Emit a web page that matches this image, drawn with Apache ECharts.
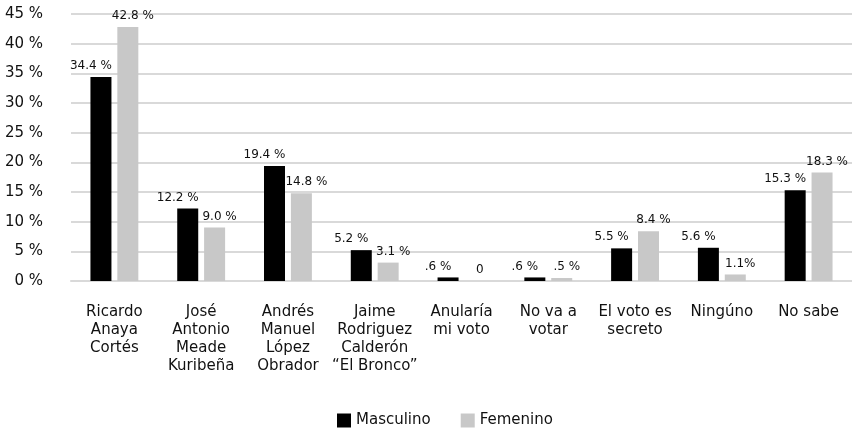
<!DOCTYPE html>
<html>
<head>
<meta charset="utf-8">
<script src="https://cdn.jsdelivr.net/npm/echarts@6/dist/echarts.min.js"></script>
<style>
  html, body { margin: 0; padding: 0; background: #fff; }
  #chart { width: 852px; height: 434px; }
</style>
</head>
<body>
<div id="chart"></div>
<script>
// Intención de voto por sexo
const categories = [
  'Ricardo\nAnaya\nCortés',
  'José\nAntonio\nMeade\nKuribeña',
  'Andrés\nManuel\nLópez\nObrador',
  'Jaime\nRodriguez\nCalderón\n“El Bronco”',
  'Anularía\nmi voto',
  'No va a\nvotar',
  'El voto es\nsecreto',
  'Ningúno',
  'No sabe'
];
const masculino = [34.4, 12.2, 19.4, 5.2, 0.6, 0.6, 5.5, 5.6, 15.3];
const femenino = [42.8, 9.0, 14.8, 3.1, 0, 0.5, 8.4, 1.1, 18.3];
const masculinoLabels = ['34.4 %', '12.2 %', '19.4 %', '5.2 %', '.6 %', '.6 %', '5.5 %', '5.6 %', '15.3 %'];
const femeninoLabels = ['42.8 %', '9.0 %', '14.8 %', '3.1 %', '0', '.5 %', '8.4 %', '1.1%', '18.3 %'];
const yTicks = { min: 0, max: 45, interval: 5 };

const FONT = 'DejaVu Sans';
const chart = echarts.init(document.getElementById('chart'));
chart.setOption({
  animation: false,
  textStyle: { fontFamily: FONT },
  grid: { left: 71, right: 0, top: 14, bottom: 153 },
  legend: {
    bottom: 1,
    left: 332,
    icon: 'rect',
    itemWidth: 14,
    itemHeight: 14,
    itemGap: 30,
    textStyle: { fontFamily: FONT, fontSize: 15, color: '#111' },
    data: ['Masculino', 'Femenino']
  },
  xAxis: {
    type: 'category',
    data: categories,
    axisLine: { show: true, lineStyle: { color: '#d9d9d9', width: 2 } },
    axisTick: { show: false },
    axisLabel: {
      interval: 0,
      margin: 22,
      fontFamily: FONT,
      fontSize: 15,
      lineHeight: 18,
      color: '#111'
    }
  },
  yAxis: {
    type: 'value',
    min: yTicks.min,
    max: yTicks.max,
    interval: yTicks.interval,
    axisLine: { show: false },
    axisTick: { show: false },
    splitLine: { lineStyle: { color: '#d9d9d9', width: 2 } },
    axisLabel: {
      formatter: '{value} %',
      margin: 28,
      fontFamily: FONT,
      fontSize: 15,
      color: '#111'
    }
  },
  series: [
    {
      name: 'Masculino',
      type: 'bar',
      data: masculino,
      barWidth: 21,
      barGap: '28%',
      itemStyle: { color: '#000000' },
      label: {
        show: true,
        position: 'top',
        offset: [-10, 0],
        fontFamily: FONT,
        fontSize: 12,
        color: '#111',
        formatter: p => masculinoLabels[p.dataIndex]
      }
    },
    {
      name: 'Femenino',
      type: 'bar',
      data: femenino,
      barWidth: 21,
      itemStyle: { color: '#c8c8c8' },
      label: {
        show: true,
        position: 'top',
        offset: [5, 0],
        fontFamily: FONT,
        fontSize: 12,
        color: '#111',
        formatter: p => femeninoLabels[p.dataIndex]
      }
    }
  ]
});
</script>
</body>
</html>
